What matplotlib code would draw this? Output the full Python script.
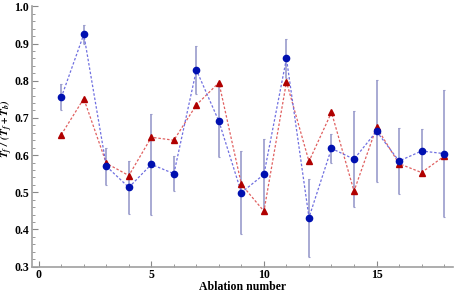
import matplotlib.pyplot as plt
import numpy as np

# Data
ablation = np.arange(1, 19)
blue_vals = [0.755, 0.925, 0.570, 0.513, 0.575, 0.550, 0.829, 0.691, 0.499,
             0.548, 0.860, 0.432, 0.618, 0.589, 0.664, 0.584, 0.611, 0.604]
blue_err = [0.035, 0.025, 0.050, 0.072, 0.135, 0.047, 0.064, 0.097, 0.111,
            0.095, 0.052, 0.105, 0.040, 0.130, 0.137, 0.090, 0.059, 0.171]
red_vals = [0.655, 0.752, 0.578, 0.545, 0.648, 0.640, 0.735, 0.795, 0.521,
            0.449, 0.797, 0.583, 0.715, 0.503, 0.675, 0.577, 0.553, 0.597]

plt.rcParams['font.family'] = ['Liberation Serif', 'DejaVu Serif']
plt.rcParams['font.weight'] = 'bold'
plt.rcParams['mathtext.fontset'] = 'stix'

fig = plt.figure(figsize=(4.54, 2.92), dpi=100)
ax = fig.add_axes([0.07, 0.087, 0.928, 0.891])

# Red series
ax.plot(ablation, red_vals, linestyle=(0, (2, 1.5)), color='#e06060', linewidth=0.9, zorder=2)
ax.plot(ablation, red_vals, linestyle='none', marker='^', markersize=5,
        color='#b00000', zorder=4)

# Blue series with error bars
ax.errorbar(ablation, blue_vals, yerr=blue_err, fmt='none', ecolor='#9a9ccc',
            elinewidth=1.2, capsize=1, capthick=0.8, zorder=1)
ax.plot(ablation, blue_vals, linestyle=(0, (2, 1.5)), color='#6f6fe0', linewidth=0.9, zorder=3)
ax.plot(ablation, blue_vals, linestyle='none', marker='o', markersize=4.5,
        color='#0010b0', zorder=5)

ax.set_xlim(-0.31, 18.4)
ax.set_ylim(0.3, 1.0)
ax.set_xticks([0, 5, 10, 15])
ax.set_xticks(np.arange(0, 19), minor=True)
ax.set_yticks(np.arange(0.3, 1.01, 0.1))
ax.set_yticks(np.arange(0.3, 1.001, 0.02), minor=True)
ax.set_yticklabels([f'{v:.1f}' for v in np.arange(0.3, 1.01, 0.1)], fontweight='bold')
ax.set_xticklabels(['0', '5', '10', '15'], fontweight='bold')

for side in ['top', 'right']:
    ax.spines[side].set_visible(False)
for side in ['left', 'bottom']:
    ax.spines[side].set_color('#a0a0a0')
    ax.spines[side].set_linewidth(1.2)

ax.tick_params(which='both', direction='in', color='#888888', labelsize=8.5, pad=2)
ax.tick_params(which='major', length=4, width=0.8)
ax.tick_params(which='minor', length=2, width=0.6)

ax.set_xlabel('Ablation number', fontsize=8.5, fontweight='bold', labelpad=0)
fig.text(0.015, 0.56, r'$\mathbfit{T_f\ /\ (T_f + T_b)}$', fontsize=8,
         rotation=90, ha='center', va='center')

fig.savefig('out.png', dpi=100)
